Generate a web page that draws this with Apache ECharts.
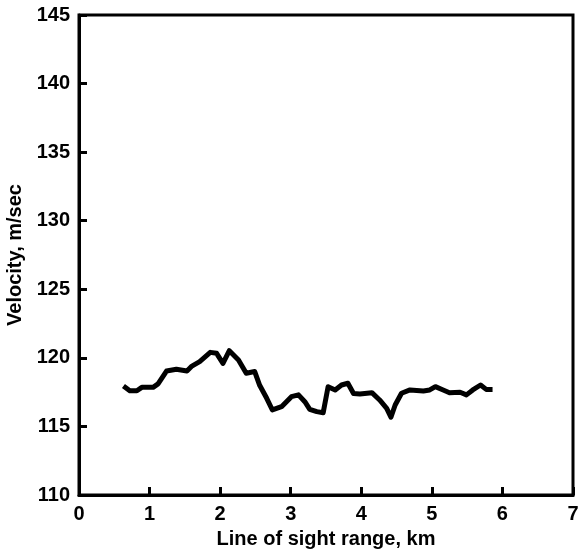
<!DOCTYPE html>
<html>
<head>
<meta charset="utf-8">
<script src="https://cdn.jsdelivr.net/npm/echarts@6/dist/echarts.min.js"></script>
<style>html,body{margin:0;padding:0;background:#fff}#c{width:578px;height:552px}</style>
</head>
<body>
<div id="c"></div>
<script>
const rangeKm = [0.63,0.72,0.82,0.89,1.05,1.12,1.24,1.38,1.53,1.60,1.71,1.86,1.95,2.04,2.13,2.26,2.37,2.49,2.56,2.66,2.74,2.87,3.01,3.11,3.20,3.27,3.37,3.46,3.53,3.63,3.72,3.81,3.89,3.98,4.15,4.26,4.36,4.42,4.48,4.57,4.69,4.88,4.97,5.05,5.16,5.25,5.40,5.49,5.58,5.69,5.77,5.86];
const velocity = [117.95,117.6,117.6,117.85,117.85,118.1,119.04,119.17,119.04,119.4,119.72,120.4,120.33,119.6,120.52,119.85,118.88,119.0,118.0,117.05,116.2,116.44,117.17,117.3,116.8,116.25,116.08,116.0,117.9,117.66,118.02,118.15,117.4,117.37,117.46,116.93,116.32,115.67,116.56,117.42,117.66,117.59,117.66,117.9,117.66,117.46,117.49,117.3,117.66,118.02,117.7,117.7];
const xName = 'Line of sight range, km';
const yName = 'Velocity, m/sec';

const font = {fontFamily:'Liberation Sans', fontWeight:'bold', fontSize:20, color:'#000'};
const chart = echarts.init(document.getElementById('c'));
chart.setOption({
  animation:false,
  grid:{left:79, right:5, top:15, bottom:57, containLabel:false, outerBoundsMode:'none',
    show:true, borderColor:'#000', borderWidth:3, backgroundColor:'transparent'},
  xAxis:{type:'value', min:0, max:7, interval:1, name:xName, nameLocation:'middle', nameGap:34,
    nameTextStyle:Object.assign({}, font),
    axisLine:{show:true, onZero:false, lineStyle:{color:'#000', width:3}},
    axisTick:{show:true, inside:true, length:8, lineStyle:{color:'#000', width:3}},
    axisLabel:Object.assign({margin:9}, font),
    splitLine:{show:false}},
  yAxis:{type:'value', min:110, max:145, interval:5, name:yName, nameLocation:'middle', nameGap:48,
    nameTextStyle:Object.assign({}, font),
    axisLine:{show:true, onZero:false, lineStyle:{color:'#000', width:3}},
    axisTick:{show:true, inside:true, length:8, lineStyle:{color:'#000', width:3}},
    axisLabel:Object.assign({margin:9}, font),
    splitLine:{show:false}},
  series:[{type:'line', data:rangeKm.map((x,i)=>[x, velocity[i]]), showSymbol:false, symbol:'none',
    lineStyle:{color:'#000', width:5, join:'round'}}]
});
</script>
</body>
</html>
